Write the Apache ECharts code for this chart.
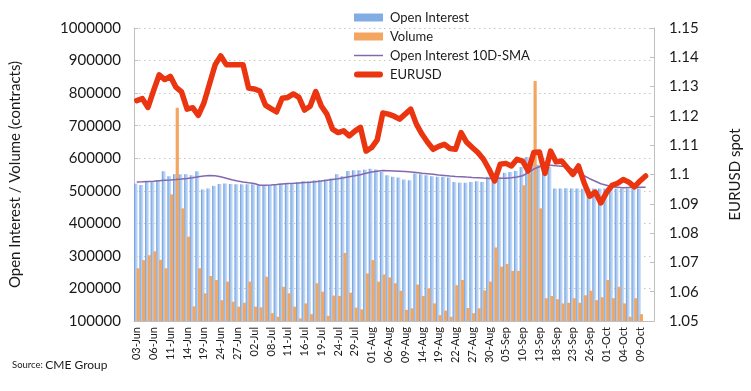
<!DOCTYPE html>
<html><head><meta charset="utf-8">
<script src="https://cdn.jsdelivr.net/npm/echarts@6/dist/echarts.min.js"></script>
<style>html,body{margin:0;padding:0;background:#fff}#c{width:751px;height:391px}</style>
</head><body><div id="c"></div>
<script>
const categories = [
'03-Jun','04-Jun','05-Jun','06-Jun','07-Jun','10-Jun','11-Jun','12-Jun','13-Jun','14-Jun',
'17-Jun','18-Jun','19-Jun','20-Jun','21-Jun','24-Jun','25-Jun','26-Jun','27-Jun','28-Jun',
'01-Jul','02-Jul','03-Jul','05-Jul','08-Jul','09-Jul','10-Jul','11-Jul','12-Jul','15-Jul',
'16-Jul','17-Jul','18-Jul','19-Jul','22-Jul','23-Jul','24-Jul','25-Jul','26-Jul','29-Jul',
'30-Jul','31-Jul','01-Aug','02-Aug','05-Aug','06-Aug','07-Aug','08-Aug','09-Aug','12-Aug',
'13-Aug','14-Aug','15-Aug','16-Aug','19-Aug','20-Aug','21-Aug','22-Aug','23-Aug','26-Aug',
'27-Aug','28-Aug','29-Aug','30-Aug','03-Sep','04-Sep','05-Sep','06-Sep','09-Sep','10-Sep',
'11-Sep','12-Sep','13-Sep','16-Sep','17-Sep','18-Sep','19-Sep','20-Sep','23-Sep','24-Sep',
'25-Sep','26-Sep','27-Sep','30-Sep','01-Oct','02-Oct','03-Oct','04-Oct','07-Oct','08-Oct',
'09-Oct','10-Oct','11-Oct'];

const openInterest = [
522000,518000,527000,528000,533000,560000,545000,551000,551000,551000,
548000,560000,504000,507000,515000,521000,522000,521000,520000,520000,
520000,520000,517000,517000,517000,519000,522000,522000,524000,527000,
529000,529000,532000,532000,535000,538000,551000,545000,561000,563000,
563000,565000,568000,565000,558000,548000,543000,541000,535000,532000,
553000,551000,548000,545000,543000,543000,541000,527000,525000,525000,
527000,529000,527000,543000,545000,543000,555000,558000,561000,573000,
604000,585000,580000,578000,573000,507000,507000,508000,507000,507000,
506000,507000,507000,507000,507000,507000,507000,507000,507000,507000,
507000];

const volume = [
262000,287000,302000,314000,288000,262000,489000,755000,446000,359000,
145000,262000,185000,238000,226000,164000,221000,159000,144000,156000,
221000,144000,142000,236000,124000,113000,205000,185000,144000,108000,
154000,121000,216000,190000,116000,178000,177000,309000,187000,141000,
136000,246000,287000,221000,243000,234000,216000,193000,134000,139000,
212000,177000,200000,154000,118000,132000,113000,210000,226000,140000,
124000,139000,194000,221000,326000,267000,275000,254000,254000,517000,
553000,837000,446000,170000,177000,167000,154000,156000,170000,156000,
179000,193000,164000,173000,226000,170000,205000,154000,113000,170000,
121000];

const oiSMA10 = [
527200,527800,528800,529400,530900,532400,533400,534600,536100,537700,
540100,543200,545300,547200,546200,543200,538600,534000,530000,527200,
524800,522600,517100,517100,518000,519300,520800,522300,523200,524200,
525400,526300,527800,530000,532400,534900,537100,540100,543200,546200,
549300,553900,557900,560100,562200,561600,561000,560100,559100,557900,
556100,553900,552400,550800,548700,547200,545600,544100,543200,542000,
541000,540100,538900,538000,538000,538300,538600,540100,542600,546200,
555500,566800,573900,579100,578500,576900,575400,573900,564700,555500,
546200,537100,529400,521700,517100,512500,511000,509400,510100,510400,
510700,511000];

const eurusd = [
1.1252,1.1259,1.1229,1.1286,1.1340,1.1324,1.1335,1.1298,1.1282,1.1223,
1.1228,1.1202,1.1244,1.1309,1.1374,1.1405,1.1375,1.1375,1.1375,1.1375,
1.1295,1.1292,1.1285,1.1237,1.1225,1.1214,1.1260,1.1263,1.1275,1.1263,
1.1220,1.1233,1.1283,1.1234,1.1206,1.1155,1.1143,1.1149,1.1132,1.1148,
1.1161,1.1080,1.1092,1.1118,1.1210,1.1206,1.1199,1.1189,1.1206,1.1223,
1.1172,1.1138,1.1110,1.1086,1.1096,1.1103,1.1089,1.1086,1.1143,1.1110,
1.1092,1.1075,1.1052,1.1018,1.0978,1.1035,1.1038,1.1029,1.1052,1.1046,
1.1012,1.1075,1.1077,1.1004,1.1080,1.1043,1.1046,1.1023,1.1000,1.1029,
1.0972,1.0926,1.0940,1.0903,1.0938,1.0963,1.0970,1.0983,1.0974,1.0958,
1.0978,1.0995];

const leftAxis = {min: 100000, max: 1000000, step: 100000};
const rightAxis = {min: 1.05, max: 1.15, step: 0.01};

const FONT = 'Lato, "Open Sans", sans-serif';
const TXT = '#1a1a1a';
const AX = '#bfbfbf';
const RED = '#ea3510';
const PURPLE = '#8468ae';

const chart = echarts.init(document.getElementById('c'), null, {renderer: 'canvas'});
chart.setOption({
  animation: false,
  backgroundColor: '#ffffff',
  grid: {left: 129, right: 86, top: 28, bottom: 70, containLabel: false},
  legend: {
    orient: 'vertical', left: 349, top: 3, itemWidth: 29, itemHeight: 8, itemGap: 0,
    textStyle: {fontSize: 13, lineHeight: 19, fontFamily: FONT, color: TXT, padding: [0, 0, 0, 2]},
    data: [
      {name: 'Open Interest', icon: 'rect', itemStyle: {color: '#82ade4'}},
      {name: 'Volume', icon: 'rect'},
      {name: 'Open Interest 10D-SMA', icon: 'path://M0,0 L29,0 L29,1.5 L0,1.5 Z', itemStyle: {color: PURPLE}},
      {name: 'EURUSD', icon: 'path://M3,0 L26,0 A3,3 0 0 1 26,6 L3,6 A3,3 0 0 1 3,0 Z', itemStyle: {color: RED}}
    ]
  },
  xAxis: {
    type: 'category', data: categories, boundaryGap: true,
    axisLine: {lineStyle: {color: AX, width: 1}},
    axisTick: {interval: 0, length: 3, lineStyle: {color: AX}},
    axisLabel: {interval: 2, rotate: 90, fontSize: 11, color: TXT, fontFamily: FONT, margin: 6}
  },
  yAxis: [{
    type: 'value', min: leftAxis.min, max: leftAxis.max, interval: leftAxis.step,
    name: 'Open Interest / Volume (contracts)', nameLocation: 'middle', nameGap: 111, nameRotate: 90,
    nameTextStyle: {fontSize: 15, fontFamily: FONT, color: TXT},
    axisLine: {show: true, lineStyle: {color: AX}},
    axisTick: {show: true, inside: true, length: 4, lineStyle: {color: AX}},
    axisLabel: {fontSize: 15, color: TXT, fontFamily: FONT, margin: 13, formatter: v => String(v)},
    splitLine: {show: true, lineStyle: {color: '#c6c6c6', type: [1.5, 3.5], width: 1}}
  }, {
    type: 'value', min: rightAxis.min, max: rightAxis.max, interval: rightAxis.step,
    name: 'EURUSD spot', nameLocation: 'middle', nameGap: 74, nameRotate: 90,
    nameTextStyle: {fontSize: 15, fontFamily: FONT, color: TXT},
    axisLine: {show: true, lineStyle: {color: AX}},
    axisTick: {show: true, inside: true, length: 4, lineStyle: {color: AX}},
    axisLabel: {fontSize: 15, color: TXT, fontFamily: FONT, margin: 15},
    splitLine: {show: false}
  }],
  series: [{
    name: 'Open Interest', type: 'bar', data: openInterest, barWidth: 3.8, barGap: '-30%', z: 1,
    itemStyle: {color: new echarts.graphic.LinearGradient(0, 0, 1, 0, [
      {offset: 0, color: '#5f93db'}, {offset: 0.35, color: '#9fc2ee'}, {offset: 1, color: '#d0e2f8'}])}
  }, {
    name: 'Volume', type: 'bar', data: volume, barWidth: 3.2, z: 2,
    itemStyle: {color: '#f2a660'}
  }, {
    name: 'Open Interest 10D-SMA', type: 'line', data: oiSMA10, showSymbol: false, symbol: 'none', z: 3,
    lineStyle: {color: PURPLE, width: 1.5}, itemStyle: {color: PURPLE}
  }, {
    name: 'EURUSD', type: 'line', yAxisIndex: 1, data: eurusd, showSymbol: false, symbol: 'none', z: 4,
    lineStyle: {color: RED, width: 5.5, cap: 'round', join: 'round'}, itemStyle: {color: RED}
  }],
  graphic: [{
    type: 'text', left: 12, top: 359,
    style: {
      text: '{a|Source: }{b|CME Group}',
      rich: {a: {fontSize: 9.5, fontFamily: FONT, fill: TXT}, b: {fontSize: 12, fontFamily: FONT, fill: TXT}}
    }
  }]
});
</script></body></html>
